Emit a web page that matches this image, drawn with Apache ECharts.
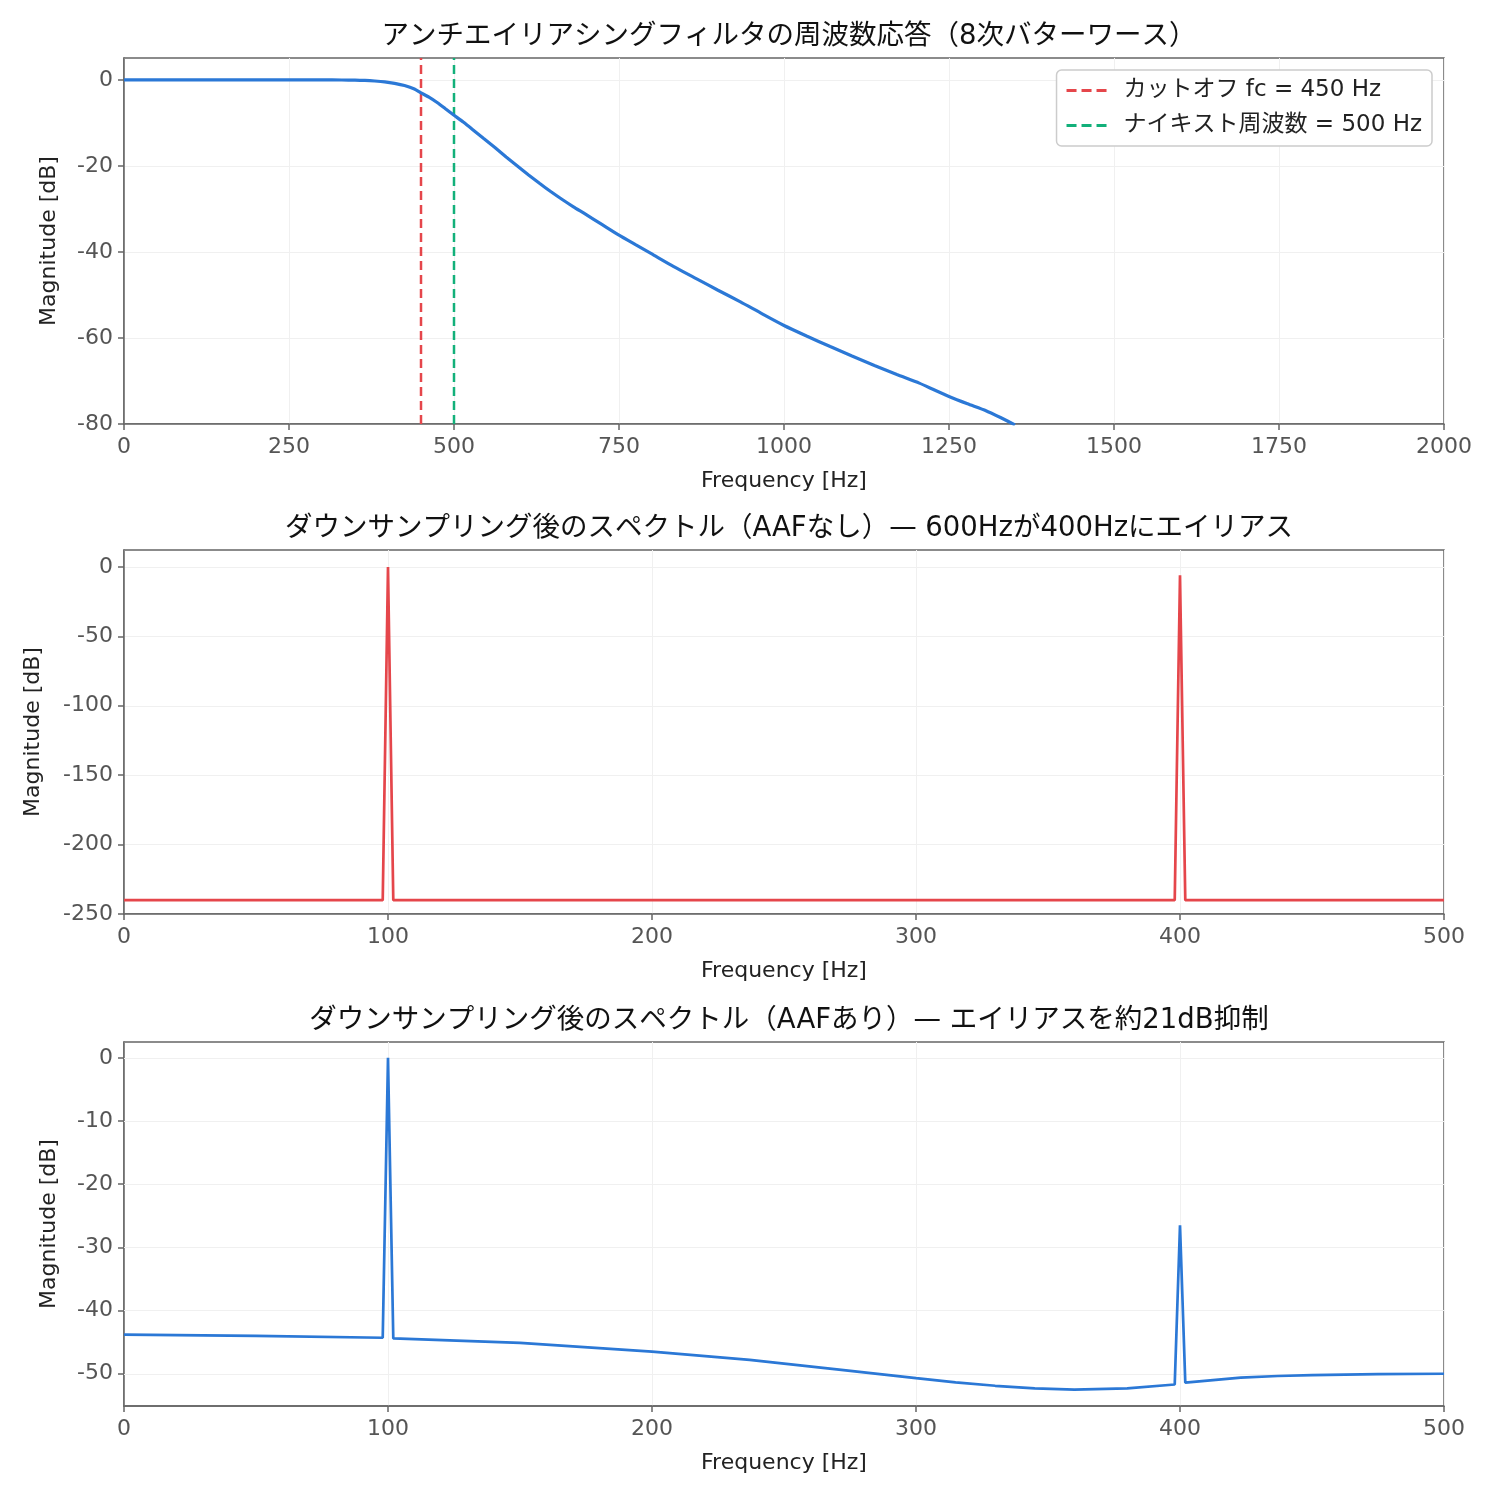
<!DOCTYPE html>
<html>
<head>
<meta charset="utf-8">
<script src="https://cdn.jsdelivr.net/npm/echarts@6/dist/echarts.min.js"></script>
<style>
  html, body { margin: 0; padding: 0; background: #fff; }
  #main { width: 1500px; height: 1500px; }
</style>
</head>
<body>
<div id="main"></div>
<script>
// ---- data ----
// panel 1: 8th-order Butterworth response
var filtFreq = [0, 100, 200, 300, 330, 350, 365, 380, 395, 410, 425, 440, 450, 462, 475, 487, 500, 514, 528, 545, 562, 579, 596, 613, 630, 647, 664, 681, 698, 724, 750, 775, 799, 833, 867, 900, 934, 967, 1000, 1035, 1070, 1103, 1137, 1171, 1205, 1228, 1250, 1278, 1306, 1328, 1350];
var filtDb   = [0, 0, 0, 0, -0.02, -0.05, -0.12, -0.25, -0.45, -0.8, -1.3, -2.1, -3.0, -4.0, -5.3, -6.7, -8.2, -9.8, -11.5, -13.6, -15.7, -17.9, -20.0, -22.1, -24.1, -26.0, -27.8, -29.5, -31.1, -33.6, -36.1, -38.3, -40.4, -43.4, -46.2, -48.9, -51.6, -54.4, -57.1, -59.6, -62.0, -64.2, -66.4, -68.5, -70.5, -72.1, -73.6, -75.3, -76.9, -78.5, -80.2];
var cutoffHz = 450;
var nyquistHz = 500;

// panel 2: spectrum without AAF
var noAafFreq = [0, 98, 100, 102, 398, 400, 402, 500];
var noAafDb   = [-240, -240, 0, -240, -240, -6, -240, -240];

// panel 3: spectrum with AAF
var aafFreq = [0, 50, 98, 100, 102, 150, 200, 237, 270, 300, 315, 330, 345, 360, 380, 398, 400, 402, 423, 437, 450, 475, 500];
var aafDb   = [-43.8, -44.0, -44.3, 0, -44.4, -45.1, -46.5, -47.8, -49.3, -50.7, -51.35, -51.9, -52.3, -52.5, -52.3, -51.7, -26.5, -51.4, -50.6, -50.35, -50.2, -50.05, -50.0];

// tick labels
var yTicks1 = [-80, -60, -40, -20, 0];
var yTicks2 = [-250, -200, -150, -100, -50, 0];
var yTicks3 = [-50, -40, -30, -20, -10, 0];

var titles = [
  'アンチエイリアシングフィルタの周波数応答（8次バターワース）',
  'ダウンサンプリング後のスペクトル（AAFなし）— 600Hzが400Hzにエイリアス',
  'ダウンサンプリング後のスペクトル（AAFあり）— エイリアスを約21dB抑制'
];
var legendNames = ['カットオフ fc = 450 Hz', 'ナイキスト周波数 = 500 Hz'];

var FONT = '"DejaVu Sans", "Noto Sans CJK JP", sans-serif';
var BLUE = '#2b78d6', RED = '#e5464b', GREEN = '#12b07a';
var AXIS = '#666666', GRIDC = '#f0f0f0';
var DASH_ICON = 'path://M0,0h10v3h-10zM15,0h10v3h-10zM30,0h10v3h-10z';

function pairs(xs, ys) {
  return xs.map(function (x, i) { return [x, ys[i]]; });
}

var grids = [
  { left: 124, width: 1320, top: 58, height: 366 },
  { left: 124, width: 1320, top: 550, height: 364 },
  { left: 124, width: 1320, top: 1042, height: 364 }
];
grids.forEach(function (g) {
  g.show = true; g.borderColor = AXIS; g.borderWidth = 1.5; g.backgroundColor = 'transparent';
});

function plain(v) { return String(v); }

function xAxis(idx, max, interval) {
  return {
    type: 'value', gridIndex: idx, min: 0, max: max, interval: interval,
    name: 'Frequency [Hz]', nameLocation: 'middle', nameGap: 46,
    nameTextStyle: { fontFamily: FONT, fontSize: 22, color: '#222' },
    axisLine: { show: true, onZero: false, lineStyle: { color: AXIS, width: 1.5 } },
    axisTick: { show: true, length: 6, lineStyle: { color: AXIS, width: 1.5 } },
    axisLabel: { fontFamily: FONT, fontSize: 22, color: '#555', margin: 12, formatter: plain },
    splitLine: { show: true, lineStyle: { color: GRIDC, width: 1 } }
  };
}

function yAxis(idx, min, max, ticks, gap, split) {
  return {
    type: 'value', gridIndex: idx, min: min, max: max,
    name: 'Magnitude [dB]', nameLocation: 'middle', nameGap: gap, nameRotate: 90,
    nameTextStyle: { fontFamily: FONT, fontSize: 22, color: '#222' },
    axisLine: { show: true, onZero: false, lineStyle: { color: AXIS, width: 1.5 } },
    axisTick: { show: true, length: 6, customValues: ticks, lineStyle: { color: AXIS, width: 1.5 } },
    axisLabel: { fontFamily: FONT, fontSize: 22, color: '#555', margin: 11, customValues: ticks, formatter: plain },
    splitLine: { show: split, lineStyle: { color: GRIDC, width: 1 } }
  };
}

var option = {
  backgroundColor: '#fff',
  animation: false,
  title: titles.map(function (t, i) {
    return {
      text: t, left: 784, textAlign: 'center', top: [18, 510, 1002][i],
      textStyle: { fontFamily: FONT, fontSize: 27.5, fontWeight: 'normal', color: '#111' }
    };
  }),
  legend: {
    data: legendNames.map(function (n) { return { name: n, icon: DASH_ICON }; }),
    orient: 'vertical', right: 68, top: 70,
    itemWidth: 44, itemHeight: 3, itemGap: 12,
    padding: [9, 10, 9, 10],
    borderColor: '#cccccc', borderWidth: 1.5, borderRadius: 5,
    backgroundColor: '#fff',
    textStyle: { fontFamily: FONT, fontSize: 23, color: '#222', padding: [0, 0, 0, 10] }
  },
  grid: grids,
  xAxis: [xAxis(0, 2000, 250), xAxis(1, 500, 100), xAxis(2, 500, 100)],
  yAxis: [
    yAxis(0, -80, 5.1, yTicks1, 64, true),
    yAxis(1, -250, 12.2, yTicks2, 80, true),
    yAxis(2, -55.1, 2.5, yTicks3, 64, false)
  ],
  series: [
    {
      type: 'line', name: 'response', xAxisIndex: 0, yAxisIndex: 0,
      data: pairs(filtFreq, filtDb), showSymbol: false, symbol: 'none',
      smooth: 0.2, clip: true,
      lineStyle: { color: BLUE, width: 3.2 }, z: 3
    },
    {
      type: 'line', name: legendNames[0], xAxisIndex: 0, yAxisIndex: 0,
      data: [[cutoffHz, -80], [cutoffHz, 5.1]], symbol: 'none',
      itemStyle: { color: RED },
      lineStyle: { color: RED, width: 2.5, type: [9, 5] }, z: 2
    },
    {
      type: 'line', name: legendNames[1], xAxisIndex: 0, yAxisIndex: 0,
      data: [[nyquistHz, -80], [nyquistHz, 5.1]], symbol: 'none',
      itemStyle: { color: GREEN },
      lineStyle: { color: GREEN, width: 2.5, type: [9, 5] }, z: 2
    },
    {
      type: 'line', name: 'noaaf', xAxisIndex: 1, yAxisIndex: 1,
      data: pairs(noAafFreq, noAafDb), symbol: 'none',
      lineStyle: { color: RED, width: 2.7 }, z: 3
    },
    {
      type: 'line', name: 'aaf', xAxisIndex: 2, yAxisIndex: 2,
      data: pairs(aafFreq, aafDb), symbol: 'none',
      lineStyle: { color: BLUE, width: 2.7 }, z: 3,
      markLine: {
        silent: true, symbol: 'none', label: { show: false }, z: 1,
        lineStyle: { color: GRIDC, width: 1, type: 'solid' },
        data: yTicks3.map(function (v) { return { yAxis: v }; })
      }
    }
  ]
};

var chart = echarts.init(document.getElementById('main'), null, { renderer: 'canvas' });
chart.setOption(option);
</script>
</body>
</html>
